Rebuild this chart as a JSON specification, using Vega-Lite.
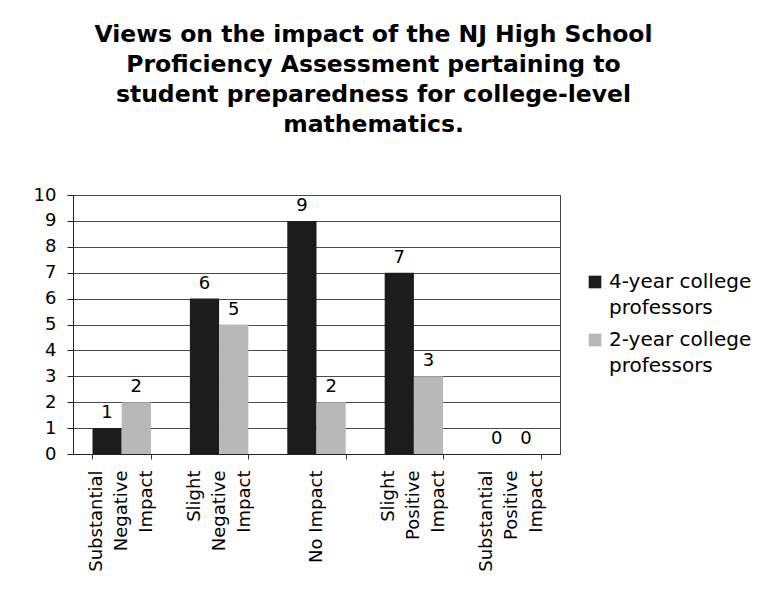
{
  "$schema": "https://vega.github.io/schema/vega-lite/v6.json",
  "autosize": "none",
  "width": 487,
  "height": 259,
  "padding": {"left": 73, "top": 195, "right": 203, "bottom": 144},
  "background": "white",
  "title": {
    "text": ["Views on the impact of the NJ High School", "Proficiency Assessment pertaining to", "student preparedness for college-level", "mathematics."],
    "font": "DejaVu Sans",
    "fontSize": 23.5,
    "fontWeight": "bold",
    "color": "#000000",
    "lineHeight": 30,
    "anchor": "middle",
    "dx": 57,
    "offset": 50
  },
  "data": {
    "values": [
      {"impact": "Substantial Negative Impact", "group": "4-year college professors", "value": 1},
      {"impact": "Substantial Negative Impact", "group": "2-year college professors", "value": 2},
      {"impact": "Slight Negative Impact", "group": "4-year college professors", "value": 6},
      {"impact": "Slight Negative Impact", "group": "2-year college professors", "value": 5},
      {"impact": "No Impact", "group": "4-year college professors", "value": 9},
      {"impact": "No Impact", "group": "2-year college professors", "value": 2},
      {"impact": "Slight Positive Impact", "group": "4-year college professors", "value": 7},
      {"impact": "Slight Positive Impact", "group": "2-year college professors", "value": 3},
      {"impact": "Substantial Positive Impact", "group": "4-year college professors", "value": 0},
      {"impact": "Substantial Positive Impact", "group": "2-year college professors", "value": 0}
    ]
  },
  "encoding": {
    "x": {
      "field": "impact",
      "type": "nominal",
      "sort": null,
      "scale": {"paddingInner": 0.4, "paddingOuter": 0.2},
      "axis": {
        "title": null,
        "labelAngle": -90,
        "labelAlign": "right",
        "labelBaseline": "middle",
        "labelFont": "DejaVu Sans",
        "labelFontSize": 18,
        "labelColor": "#000000",
        "labelLineHeight": 25,
        "labelPadding": 11,
        "labelOffset": -25,
        "labelExpr": "datum.label == 'No Impact' ? ['', 'No Impact', ''] : split(datum.label, ' ')",
        "tickBand": "extent",
        "tickSize": 5,
        "tickColor": "#333333",
        "domainColor": "#222222",
        "grid": false
      }
    },
    "xOffset": {"field": "group", "type": "nominal", "sort": ["4-year college professors", "2-year college professors"]},
    "y": {
      "field": "value",
      "type": "quantitative",
      "scale": {"domain": [0, 10]},
      "axis": {
        "title": null,
        "values": [0, 1, 2, 3, 4, 5, 6, 7, 8, 9, 10],
        "labelFont": "DejaVu Sans",
        "labelFontSize": 18,
        "labelColor": "#000000",
        "labelPadding": 11,
        "tickSize": 6,
        "tickColor": "#222222",
        "domainColor": "#222222",
        "gridColor": "#4a4a4a",
        "gridWidth": 1
      }
    }
  },
  "layer": [
    {
      "mark": {"type": "bar"},
      "encoding": {
        "color": {
          "field": "group",
          "type": "nominal",
          "sort": ["4-year college professors", "2-year college professors"],
          "scale": {"domain": ["4-year college professors", "2-year college professors"], "range": ["#1c1c1c", "#b8b8b8"]},
          "legend": {
            "title": null,
            "orient": "none",
            "legendX": 512,
            "legendY": 77,
            "padding": 0,
            "symbolType": "square",
            "symbolSize": 160,
            "symbolStrokeWidth": 0,
            "labelOffset": 4,
            "labelFont": "DejaVu Sans",
            "labelFontSize": 20,
            "labelColor": "#000000",
            "labelLimit": 300,
            "labelBaseline": "middle",
            "rowPadding": 12,
            "labelExpr": "split(replace(datum.label, 'college ', 'college|'), '|')",
            "encode": {"labels": {"update": {"lineHeight": {"value": 26}}}}
          }
        }
      }
    },
    {
      "mark": {"type": "text", "baseline": "bottom", "dy": -6, "font": "DejaVu Sans", "fontSize": 18, "color": "#000000"},
      "encoding": {"text": {"field": "value", "type": "quantitative"}}
    }
  ],
  "config": {
    "view": {"stroke": "#444444", "strokeWidth": 1},
    "axis": {"domainWidth": 1}
  }
}
